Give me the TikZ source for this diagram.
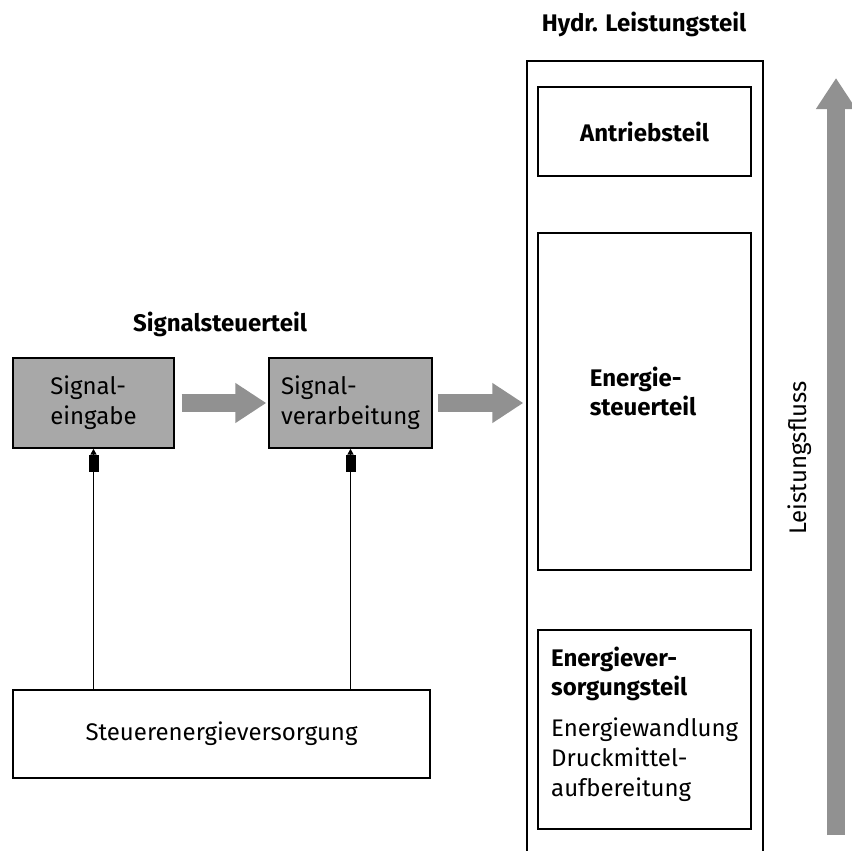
\documentclass[tikz,border=0pt]{standalone}
\usepackage{fontspec}
\setmainfont{Fira Sans}
\usetikzlibrary{arrows.meta}
\definecolor{boxgray}{HTML}{A8A8A8}
\definecolor{arrowgray}{HTML}{919191}
\begin{document}
\begin{tikzpicture}[x=1pt,y=-1pt,
  box/.style={draw=black, line width=1.4pt, rectangle, inner sep=0pt, align=left,
    font=\fontsize{24}{30}\selectfont},
  graybox/.style={box, fill=boxgray},
  txt/.style={inner sep=0pt, align=left, font=\fontsize{24}{30}\selectfont},
  boldtxt/.style={inner sep=0pt, align=left, font=\fontsize{24}{29}\selectfont\bfseries},
  flow/.style={draw=arrowgray, line width=18pt, -{Triangle[length=31pt,width=38pt]}},
  ctrl/.style={line width=1.6pt, -{Rectangle[length=17pt,width=10pt]Triangle[length=6pt,width=6pt]}}
]
\useasboundingbox (0,0) rectangle (851,851);

% left part
\node[boldtxt] (sst) at (220,324) {Signalsteuerteil};
\node[graybox, minimum width=161pt, minimum height=90pt] (s1) at (93.5,403) {Signal-\\eingabe};
\node[graybox, minimum width=163pt, minimum height=90pt] (s2) at (350.5,403) {Signal-\\verarbeitung};
\node[box, minimum width=417pt, minimum height=88pt] (sev) at (221.5,734) {Steuerenergieversorgung};

% right part
\node[boldtxt] (hyd) at (644,24) {Hydr. Leistungsteil};
\node[box, minimum width=236pt, minimum height=799pt] (outer) at (645,460.5) {};
\node[box, minimum width=213pt, minimum height=89pt] (ant) at (644.5,131.5) {\bfseries Antriebsteil};
\node[box, minimum width=213pt, minimum height=337pt] (est) at (644.5,401.5) {};
\node[boldtxt] (estt) at (643,391) {Energie-\\steuerteil};
\node[box, minimum width=213pt, minimum height=199pt] (evs) at (644.5,729.5) {};
\node[txt, anchor=north west] (evst) at (551,647) {\textbf{Energiever-}\\[-1pt]\textbf{sorgungsteil}\\[11pt]Energiewandlung\\Druckmittel-\\aufbereitung};

% flows
\draw[flow] ([xshift=7pt]s1.east) -- ([xshift=-2pt]s2.west);
\draw[flow] ([xshift=5pt]s2.east) -- ([xshift=-3pt]outer.west |- s2.east);
\coordinate (pfA) at (836,835);
\coordinate (pfB) at (836,78);
\draw[flow] (pfA) -- (pfB);
\node[txt, rotate=90] (lf) at (800,458) {Leistungsfluss};

% control energy lines
\draw[ctrl] (s1.south |- sev.north) -- (s1.south);
\draw[ctrl] (s2.south |- sev.north) -- (s2.south);
\end{tikzpicture}
\end{document}
